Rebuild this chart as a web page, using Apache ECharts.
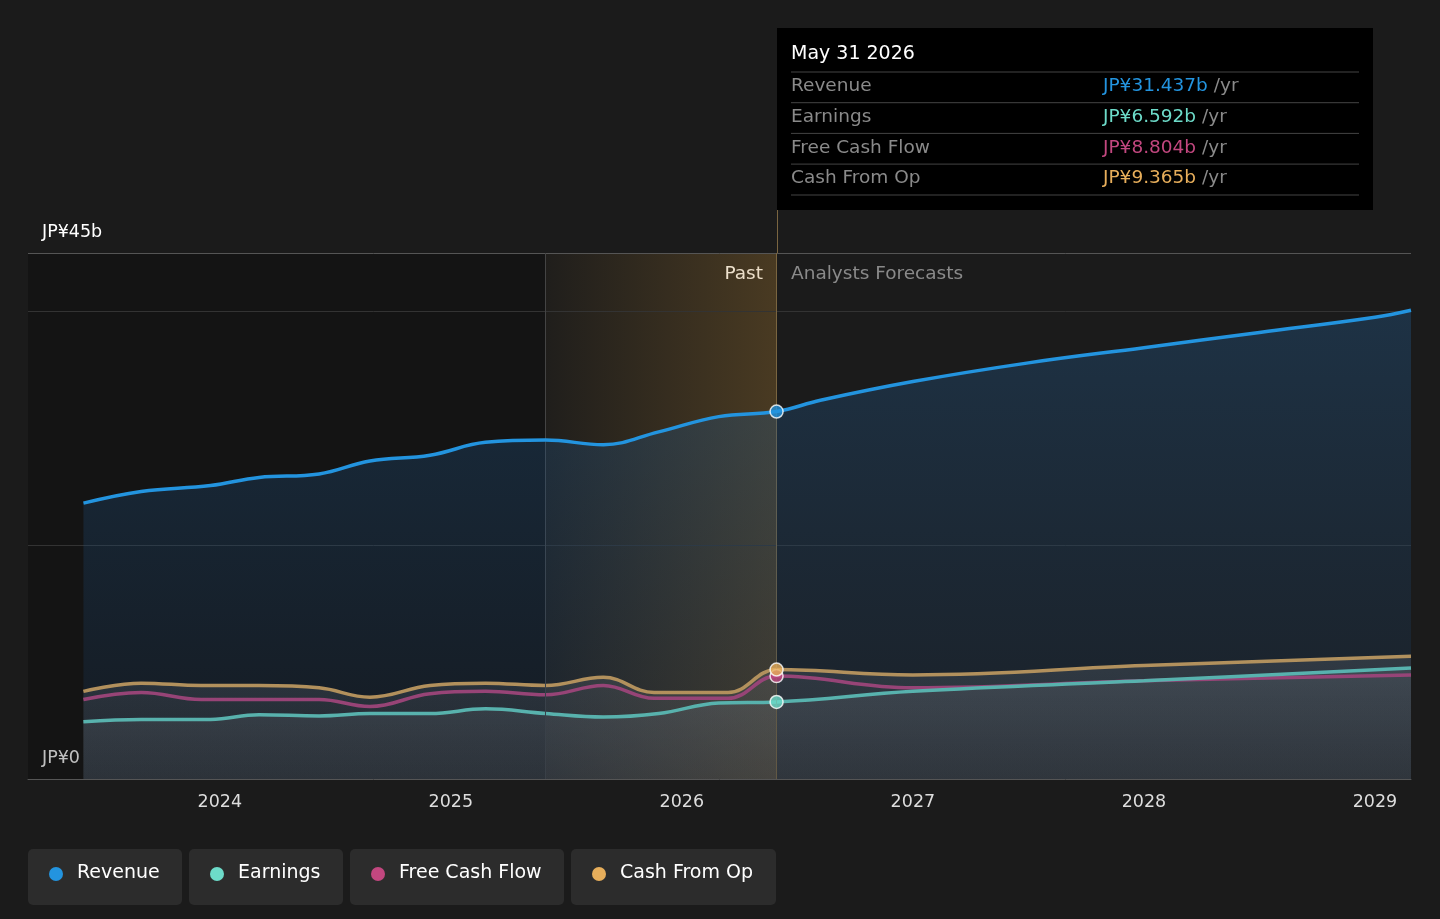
<!DOCTYPE html>
<html><head><meta charset="utf-8">
<script src="https://cdn.jsdelivr.net/npm/echarts@6/dist/echarts.min.js"></script>
<style>html,body{margin:0;background:#1b1b1b}#c{width:1440px;height:919px}</style>
</head><body><div id="c"></div>
<script>
const revenue = [[2023.41,23.6],[2023.66,24.6],[2023.96,25.1],[2024.17,25.8],[2024.43,26.1],[2024.65,27.2],[2024.91,27.7],[2025.15,28.8],[2025.41,29.0],[2025.66,28.6],[2025.90,29.7],[2026.16,31.0],[2026.41,31.437],[2026.6,32.4],[2027.0,34.0],[2027.5,35.6],[2028.0,36.9],[2028.5,38.2],[2029.0,39.5],[2029.156,40.1]];
const earnings = [[2023.41,4.9],[2023.66,5.1],[2023.96,5.1],[2024.17,5.5],[2024.43,5.4],[2024.65,5.6],[2024.91,5.6],[2025.15,6.0],[2025.41,5.6],[2025.66,5.3],[2025.90,5.6],[2026.16,6.5],[2026.41,6.592],[2027.0,7.5],[2028.0,8.4],[2029.156,9.5]];
const fcf = [[2023.41,6.8],[2023.66,7.4],[2023.92,6.8],[2024.17,6.8],[2024.43,6.8],[2024.65,6.2],[2024.91,7.3],[2025.15,7.5],[2025.41,7.2],[2025.66,8.0],[2025.88,6.9],[2026.2,6.9],[2026.41,8.804],[2027.0,7.8],[2028.0,8.4],[2029.156,8.9]];
const cfo = [[2023.41,7.5],[2023.66,8.2],[2023.92,8.0],[2024.17,8.0],[2024.43,7.8],[2024.65,7.0],[2024.91,8.0],[2025.15,8.2],[2025.41,8.0],[2025.66,8.7],[2025.88,7.4],[2026.2,7.4],[2026.41,9.365],[2027.0,8.9],[2028.0,9.7],[2029.156,10.5]];
const years = [2024,2025,2026,2027,2028,2029];
const colors = ['#2394df','#6ddbc9','#c2477f','#e7ae5b'];
const names = ['Revenue','Earnings','Free Cash Flow','Cash From Op'];
const tipVals = ['JP¥31.437b','JP¥6.592b','JP¥8.804b','JP¥9.365b'];
const pastStart = 2025.41, pastEnd = 2026.41;

const chart = echarts.init(document.getElementById('c'));
const font = 'DejaVu Sans';
const lineS = (name, data, color, area, z) => ({
  type:'line', name, data, smooth:0.4, showSymbol:false, z,
  lineStyle:{color, width:3.5}, itemStyle:{color},
  areaStyle: area
});
const grayArea = {color:{type:'linear',x:0,y:0,x2:0,y2:1,colorStops:[{offset:0,color:'rgba(130,130,130,0.4)'},{offset:1,color:'rgba(100,100,100,0.3)'}]}};

const graphic = [
  {type:'line',shape:{x1:777.5,y1:205,x2:777.5,y2:253},style:{stroke:'#7a6540',lineWidth:1}},
  {type:'rect',shape:{x:777,y:28,width:596,height:182},style:{fill:'#000'},z:100},
  {type:'text',left:791,top:45,style:{text:'May 31 2026',fill:'#fff',font:'19px '+font},z:101}
];
names.forEach((n,i)=>{
  const y = 73 + i*30.7;
  graphic.push({type:'line',shape:{x1:791,y1:y-1,x2:1359,y2:y-1},style:{stroke:'#444',lineWidth:1},z:101});
  graphic.push({type:'text',left:791,top:y+4,style:{text:n,fill:'#8a8a8a',font:'18.5px '+font},z:101});
  graphic.push({type:'text',left:1103,top:y+4,style:{rich:{a:{fill:colors[i],font:'18.5px '+font},b:{fill:'#8a8a8a',font:'18.5px '+font}},text:'{a|'+tipVals[i]+'}{b| /yr}'},z:101});
});
graphic.push({type:'line',shape:{x1:791,y1:195,x2:1359,y2:195},style:{stroke:'#444',lineWidth:1},z:101});
graphic.push({type:'text',left:42,top:223,style:{text:'JP¥45b',fill:'#fff',font:'17.5px '+font}});
graphic.push({type:'text',left:42,top:749,style:{text:'JP¥0',fill:'#fff',font:'17.5px '+font}});
graphic.push({type:'text',right:1440-763,top:265,style:{text:'Past',fill:'#fff',font:'18.5px '+font,align:'right'}});
graphic.push({type:'text',left:791,top:265,style:{text:'Analysts Forecasts',fill:'#8a8a8a',font:'18.5px '+font}});
const widths = [154,154,214,205];
let lx = 28;
names.forEach((n,i)=>{
  graphic.push({type:'rect',shape:{x:lx,y:849,width:widths[i],height:56,r:5},style:{fill:'#2c2c2c'}});
  graphic.push({type:'circle',shape:{cx:lx+28,cy:874,r:7},style:{fill:colors[i]}});
  graphic.push({type:'text',left:lx+49,top:864,style:{text:n,fill:'#fff',font:'19px '+font}});
  lx += widths[i] + 7;
});

chart.setOption({
  backgroundColor:'#1b1b1b',
  animation:false,
  grid:{left:28,right:29,top:253,bottom:140},
  xAxis:{type:'value',min:2023.17,max:2029.156,
    axisLine:{lineStyle:{color:'#555'}},axisTick:{show:false},splitLine:{show:false},
    axisLabel:{customValues:years,color:'#ddd',fontSize:17.5,fontFamily:font,margin:14,formatter:v=>String(Math.round(v))}},
  yAxis:{type:'value',min:0,max:45,axisLabel:{show:false},splitLine:{show:false},axisLine:{show:false},axisTick:{show:false}},
  graphic,
  series:[
    Object.assign(lineS('Revenue',revenue,colors[0],{color:{type:'linear',x:0,y:0,x2:0,y2:1,colorStops:[{offset:0,color:'rgba(35,100,160,0.45)'},{offset:1,color:'rgba(25,50,80,0.35)'}]}},5),{
      markArea:{silent:true,data:[
        [{xAxis:2023.17,itemStyle:{color:'rgba(0,0,0,0.25)'}},{xAxis:pastStart}],
        [{xAxis:pastStart,itemStyle:{color:{type:'linear',x:0,y:0,x2:1,y2:0,colorStops:[{offset:0,color:'rgba(180,130,50,0.03)'},{offset:1,color:'rgba(180,130,50,0.3)'}]}}},{xAxis:pastEnd}]
      ]},
      markLine:{silent:true,symbol:'none',label:{show:false},data:[
        {yAxis:20,lineStyle:{color:'#333',type:'solid',width:1}},
        {yAxis:40,lineStyle:{color:'#333',type:'solid',width:1}},
        {yAxis:45,lineStyle:{color:'#555',type:'solid',width:1}},
        {xAxis:pastStart,lineStyle:{color:'#444',type:'solid',width:1}},
        {xAxis:pastEnd,lineStyle:{color:'#7a6540',type:'solid',width:1}}
      ]}
    }),
    lineS('Cash From Op',cfo,colors[3],grayArea,4),
    lineS('Free Cash Flow',fcf,colors[2],null,4),
    lineS('Earnings',earnings,colors[1],grayArea,4),
    {type:'scatter',z:10,symbolSize:13,data:[
      {value:[pastEnd,31.437],itemStyle:{color:colors[0]}},
      {value:[pastEnd,8.804],itemStyle:{color:colors[2]}},
      {value:[pastEnd,9.365],itemStyle:{color:colors[3]}},
      {value:[pastEnd,6.592],itemStyle:{color:colors[1]}}
    ],itemStyle:{borderColor:'#fff',borderWidth:1.5}}
  ]
});
</script></body></html>
